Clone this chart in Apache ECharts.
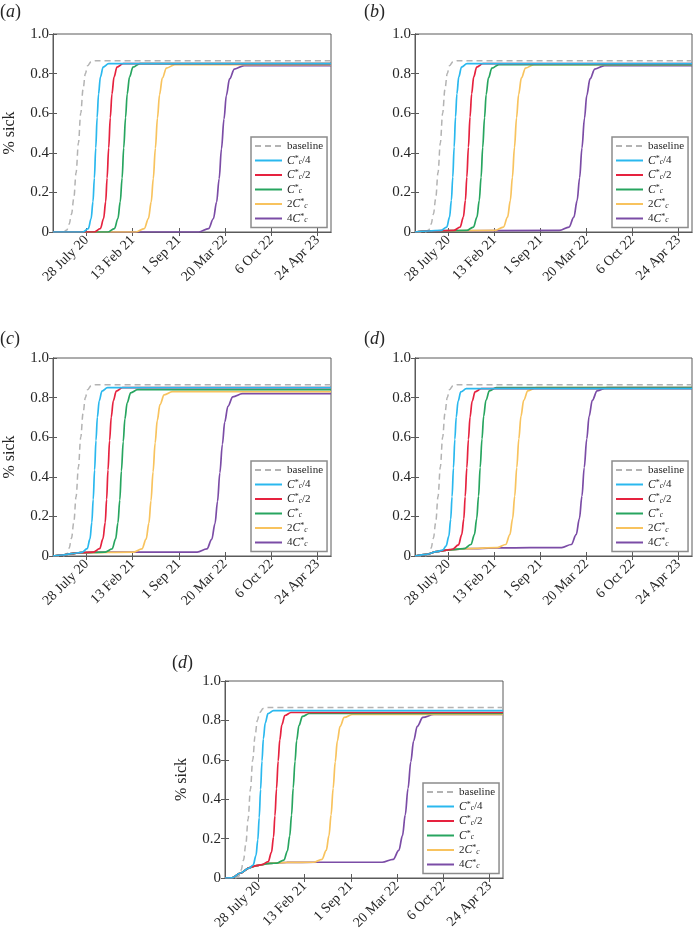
<!DOCTYPE html>
<html>
<head>
<meta charset="utf-8">
<script src="https://cdn.jsdelivr.net/npm/echarts@6/dist/echarts.min.js"></script>
<style>html,body{margin:0;padding:0;background:#fff}#c{width:694px;height:935px}</style>
</head>
<body>
<div id="c"></div>
<script>
// ---- data (days since start of simulation, fraction sick) ----
const xMaxDay = 1203;
const tickDays = [145, 345, 545, 745, 945, 1145];
const tickLabels = ['28 July 20', '13 Feb 21', '1 Sep 21', '20 Mar 22', '6 Oct 22', '24 Apr 23'];
const yTicks = [0, 0.2, 0.4, 0.6, 0.8, 1.0];
const seriesNames = ['baseline', 'Cc*/4', 'Cc*/2', 'Cc*', '2Cc*', '4Cc*'];
const panelLetters = ['a', 'b', 'c', 'd', 'd'];

const baseline = [[0,0],[45,0],[60,.01],[70,.04],[80,.09],[90,.17],[100,.3],[110,.45],[120,.6],[130,.72],[140,.8],[150,.84],[165,.86],[185,.865],[1203,.865]];

// panel (a)
const cyanA = [[0,0],[129,0],[153,.017],[165,.068],[173,.153],[179,.272],[185,.425],[191,.578],[197,.697],[205,.782],[217,.833],[241,.85],[1203,.85]];
const redA = [[0,0],[178,0],[205,.017],[219,.068],[228,.153],[234,.272],[241,.425],[248,.578],[255,.697],[264,.782],[277,.833],[304,.85],[1203,.85]];
const greenA = [[0,0],[236,0],[266,.017],[281,.068],[291,.153],[299,.272],[306,.425],[314,.578],[321,.697],[331,.782],[346,.833],[376,.85],[1203,.85]];
const yellowA = [[0,0],[359,0],[395,.017],[413,.068],[425,.152],[434,.27],[443,.423],[452,.575],[461,.693],[473,.777],[491,.828],[527,.845],[1203,.845]];
const purpleA = [[0,0],[631,0],[673,.017],[694,.067],[708,.151],[719,.269],[729,.42],[740,.571],[750,.689],[764,.773],[785,.823],[827,.84],[1203,.84]];

// panel (b)
const cyanB = [[0,0],[60,.005],[114,.008],[138,.025],[150,.075],[158,.16],[164,.277],[170,.429],[176,.581],[182,.698],[190,.783],[202,.833],[226,.85],[1203,.85]];
const redB = [[0,0],[60,.005],[169,.008],[196,.025],[210,.075],[219,.16],[225,.277],[232,.429],[239,.581],[246,.698],[255,.783],[268,.833],[295,.85],[1203,.85]];
const greenB = [[0,0],[60,.005],[224,.008],[254,.025],[269,.075],[279,.159],[287,.276],[294,.427],[302,.577],[309,.694],[319,.778],[334,.828],[364,.845],[1203,.845]];
const yellowB = [[0,0],[60,.005],[348,.008],[384,.025],[402,.075],[414,.159],[423,.276],[432,.427],[441,.577],[450,.694],[462,.778],[480,.828],[516,.845],[1203,.845]];
const purpleB = [[0,0],[60,.005],[627,.008],[669,.025],[690,.075],[704,.158],[715,.274],[725,.424],[736,.574],[746,.69],[760,.773],[781,.823],[823,.84],[1203,.84]];

// panel (c)
const cyanC = [[0,0],[40,.005],[80,.012],[124,.018],[148,.037],[160,.086],[168,.169],[174,.286],[180,.435],[186,.584],[192,.701],[200,.784],[212,.833],[236,.85],[1203,.85]];
const redC = [[0,0],[40,.005],[80,.012],[120,.017],[175,.02],[202,.037],[216,.086],[226,.169],[232,.286],[238,.435],[245,.584],[252,.701],[261,.784],[274,.833],[301,.85],[1203,.85]];
const greenC = [[0,0],[40,.005],[80,.012],[120,.017],[226,.02],[256,.036],[271,.086],[281,.168],[289,.282],[296,.43],[304,.578],[311,.692],[321,.774],[336,.824],[366,.84],[1203,.84]];
const yellowC = [[0,0],[40,.005],[80,.012],[120,.017],[349,.02],[385,.036],[403,.085],[415,.166],[424,.279],[433,.425],[442,.571],[451,.684],[463,.765],[481,.814],[517,.83],[1203,.83]];
const purpleC = [[0,0],[40,.005],[80,.012],[120,.017],[200,.02],[624,.02],[666,.036],[687,.084],[701,.164],[712,.276],[722,.42],[733,.564],[743,.676],[757,.756],[778,.804],[820,.82],[1203,.82]];

// panel (d)
const cyanD = [[0,0],[50,.008],[94,.022],[120,.03],[135,.05],[147,.1],[155,.185],[161,.3],[167,.445],[173,.589],[179,.701],[187,.781],[199,.829],[223,.845],[1203,.845]];
const redD = [[0,0],[50,.008],[94,.022],[138,.03],[162,.034],[189,.056],[203,.108],[212,.188],[218,.3],[225,.445],[232,.589],[239,.701],[248,.781],[261,.829],[288,.845],[1203,.845]];
const greenD = [[0,0],[50,.008],[94,.022],[138,.03],[213,.037],[243,.058],[258,.108],[268,.189],[276,.302],[283,.447],[291,.592],[298,.705],[308,.786],[323,.834],[353,.85],[1203,.85]];
const yellowD = [[0,0],[50,.008],[94,.022],[138,.03],[224,.037],[358,.042],[394,.058],[412,.108],[424,.189],[433,.302],[442,.447],[451,.592],[460,.705],[472,.786],[490,.834],[526,.85],[1203,.85]];
const purpleD = [[0,0],[50,.008],[94,.022],[138,.03],[224,.037],[369,.041],[500,.042],[637,.042],[679,.058],[700,.108],[714,.189],[725,.302],[735,.447],[746,.592],[756,.705],[770,.786],[791,.834],[833,.85],[1203,.85]];

// panel (e)
const cyanE = [[0,0],[30,.001],[65,.024],[104,.05],[122,.066],[134,.114],[142,.194],[148,.306],[154,.45],[160,.594],[166,.706],[174,.786],[186,.834],[210,.85],[1203,.85]];
const redE = [[0,0],[30,.001],[65,.024],[108,.053],[137,.063],[160,.068],[187,.083],[201,.13],[210,.207],[216,.315],[223,.454],[230,.593],[237,.701],[246,.778],[259,.825],[286,.84],[1203,.84]];
const greenE = [[0,0],[30,.001],[65,.024],[108,.053],[137,.063],[195,.074],[225,.076],[255,.091],[270,.137],[280,.213],[288,.319],[295,.456],[303,.592],[310,.698],[320,.774],[335,.82],[365,.835],[1203,.835]];
const yellowE = [[0,0],[30,.001],[65,.024],[108,.053],[137,.063],[195,.074],[267,.079],[384,.08],[420,.095],[438,.14],[450,.215],[459,.32],[468,.455],[477,.59],[486,.695],[498,.77],[516,.815],[552,.83],[1203,.83]];
const purpleE = [[0,0],[30,.001],[65,.024],[108,.053],[137,.063],[195,.074],[267,.079],[400,.08],[680,.08],[728,.095],[752,.14],[768,.215],[780,.32],[792,.455],[804,.59],[816,.695],[832,.77],[856,.815],[904,.83],[1203,.83]];

const panelData = [
  [baseline, cyanA, redA, greenA, yellowA, purpleA],
  [baseline, cyanB, redB, greenB, yellowB, purpleB],
  [baseline, cyanC, redC, greenC, yellowC, purpleC],
  [baseline, cyanD, redD, greenD, yellowD, purpleD],
  [baseline, cyanE, redE, greenE, yellowE, purpleE]
];

// ---- layout & style ----
const layout = [
  {left: 53, top: 34, width: 278, height: 198, yName: true, lx: 0, ly: 3},
  {left: 415, top: 34, width: 277, height: 198, yName: false, lx: 364, ly: 3},
  {left: 53, top: 358, width: 278, height: 198, yName: true, lx: 0, ly: 330},
  {left: 415, top: 358, width: 277, height: 198, yName: false, lx: 364, ly: 330},
  {left: 225, top: 681, width: 278, height: 197, yName: true, lx: 172, ly: 654}
];
const colors = ['#b3b3b3', '#2ab8ee', '#e6223f', '#27a55f', '#f8c35e', '#7b4ca6'];
const FONT = '"Liberation Serif", "DejaVu Serif", serif';
const TXT = '#262626';
const FRAME = '#5a5a5a';

const legendRich = {
  n: {fontFamily: FONT, fontSize: 11, color: TXT, lineHeight: 12},
  i: {fontFamily: FONT, fontSize: 11.5, fontStyle: 'italic', color: TXT, lineHeight: 12},
  sub: {fontFamily: FONT, fontSize: 7.5, fontStyle: 'italic', color: TXT, lineHeight: 7, verticalAlign: 'bottom'},
  sup: {fontFamily: FONT, fontSize: 8, color: TXT, lineHeight: 8, verticalAlign: 'top'}
};
function legendFmt(name) {
  switch (name) {
    case 'Cc*/4': return '{i|C}{sup|*}{sub|c}{n|/4}';
    case 'Cc*/2': return '{i|C}{sup|*}{sub|c}{n|/2}';
    case 'Cc*': return '{i|C}{sup|*}{sub|c}';
    case '2Cc*': return '{n|2}{i|C}{sup|*}{sub|c}';
    case '4Cc*': return '{n|4}{i|C}{sup|*}{sub|c}';
    default: return '{n|' + name + '}';
  }
}

const option = {
  animation: false,
  backgroundColor: '#fff',
  title: [], grid: [], xAxis: [], yAxis: [], legend: [], series: []
};

layout.forEach((L, p) => {
  option.title.push({
    left: L.lx, top: L.ly, padding: 0,
    text: '{n|(}{i|' + panelLetters[p] + '}{n|)}',
    textStyle: {fontWeight: 'normal', rich: {
      n: {fontFamily: FONT, fontSize: 18, fontWeight: 'normal', color: TXT},
      i: {fontFamily: FONT, fontSize: 18, fontWeight: 'normal', fontStyle: 'italic', color: TXT}
    }}
  });
  option.grid.push({left: L.left, top: L.top, width: L.width, height: L.height,
    show: true, borderColor: FRAME, borderWidth: 1, backgroundColor: 'transparent'});
  const axLine = {show: true, lineStyle: {color: FRAME, width: 1}};
  const tick = {show: true, inside: true, length: 4, lineStyle: {color: FRAME}, customValues: tickDays};
  option.xAxis.push({
    gridIndex: p, type: 'value', position: 'bottom', min: 0, max: xMaxDay,
    axisLine: axLine, axisTick: tick, splitLine: {show: false},
    axisLabel: {
      customValues: tickDays, rotate: 45, margin: 6,
      fontFamily: FONT, fontSize: 14, color: TXT,
      formatter: v => tickLabels[tickDays.indexOf(Math.round(v))] || ''
    }
  });
  option.xAxis.push({
    gridIndex: p, type: 'value', position: 'top', min: 0, max: xMaxDay,
    axisLine: axLine, axisTick: tick, splitLine: {show: false}, axisLabel: {show: false}
  });
  const ytick = {show: true, inside: true, length: 4, lineStyle: {color: FRAME}};
  option.yAxis.push({
    gridIndex: p, type: 'value', position: 'left', min: 0, max: 1, interval: 0.2,
    axisLine: axLine, axisTick: ytick, splitLine: {show: false},
    name: L.yName ? '% sick' : '', nameLocation: 'middle', nameGap: 35,
    nameTextStyle: {fontFamily: FONT, fontSize: 16, color: TXT},
    axisLabel: {margin: 4, fontFamily: FONT, fontSize: 15, color: TXT,
      formatter: v => (Math.abs(v) < 1e-9 ? '0' : v.toFixed(1))}
  });
  option.yAxis.push({
    gridIndex: p, type: 'value', position: 'right', min: 0, max: 1, interval: 0.2,
    axisLine: axLine, axisTick: ytick, splitLine: {show: false}, axisLabel: {show: false}
  });
  option.legend.push({
    orient: 'vertical',
    left: L.left + L.width - 6 - 74, top: L.top + L.height - 5 - 90,
    data: seriesNames,
    itemWidth: 27, itemHeight: 1, itemGap: 2.5,
    padding: [3, 4, 3, 3],
    backgroundColor: '#fff', borderColor: '#8c8c8c', borderWidth: 1.5, borderRadius: 0,
    selectedMode: false,
    itemStyle: {color: 'rgba(0,0,0,0)', borderWidth: 0, opacity: 0},
    formatter: legendFmt,
    textStyle: {fontFamily: FONT, fontSize: 11, color: TXT, lineHeight: 12, rich: legendRich}
  });
  panelData[p].forEach((arr, k) => {
    option.series.push({
      name: seriesNames[k], type: 'line', xAxisIndex: 2 * p, yAxisIndex: 2 * p,
      data: arr, showSymbol: false, symbol: 'none', smooth: 0.35, smoothMonotone: 'x',
      z: k === 0 ? 1 : 2 + (5 - k),
      lineStyle: {color: colors[k], width: k === 0 ? 1.5 : 1.7, type: k === 0 ? [6, 4] : 'solid'},
      itemStyle: {color: colors[k]}
    });
  });
});

const chart = echarts.init(document.getElementById('c'), null, {renderer: 'canvas'});
chart.setOption(option);
</script>
</body>
</html>
